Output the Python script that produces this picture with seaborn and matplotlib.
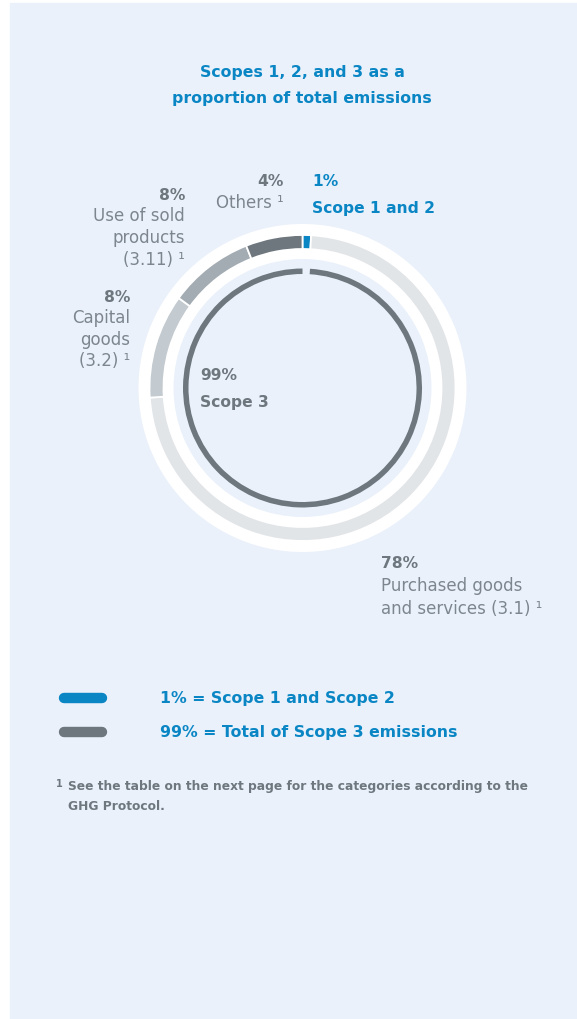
import matplotlib
matplotlib.use("Agg")
import matplotlib.pyplot as plt
from matplotlib.patches import Rectangle
import seaborn as sns

sns.set_theme(style="white")
plt.rcParams['font.family'] = ['DejaVu Sans']

# ---------------- data ----------------
categories = ["Scope 1 and 2", "Purchased goods and services (3.1)", "Capital goods (3.2)",
              "Use of sold products (3.11)", "Others"]
label_pct = [1, 78, 8, 8, 4]              # values printed on the chart
arc_share = [0.9, 73.1, 11, 9, 6]         # arc lengths as drawn in the picture
ring_colors = ["#0A86C4", "#E2E5E8", "#C3CAD0", "#A3ACB3", "#6E777E"]
scope3_share = [1, 99]                     # inner ring: gap (scope 1&2) + scope 3
legend_labels = ["1% = Scope 1 and Scope 2", "99% = Total of Scope 3 emissions"]
legend_colors = ["#0A86C4", "#6E777E"]

BG = "#EAF1FB"
BLUE = "#0A86C4"
GRAY_B = "#6E777E"
GRAY_T = "#7D868F"

W, H = 577, 1020
fig = plt.figure(figsize=(W / 100, H / 100), dpi=100)
fig.patch.set_facecolor("white")
ax = fig.add_axes([0, 0, 1, 1])

def Y(py):
    return H - py

cx, cy = 302.5, Y(389)

ax.add_patch(Rectangle((10, 0), W - 10, H - 4, color=BG, zorder=0))

# white halo ring
ax.pie([1], colors=["white"], radius=164, center=(cx, cy),
       wedgeprops=dict(width=35, linewidth=0), startangle=90)
# main coloured ring
ax.pie(arc_share, colors=ring_colors, radius=153, center=(cx, cy), startangle=90,
       counterclock=False, wedgeprops=dict(width=14, edgecolor="white", linewidth=1.3))
# inner scope-3 ring
ax.pie(scope3_share, colors=[BG, GRAY_B], radius=119.5, center=(cx, cy), startangle=90,
       counterclock=False, wedgeprops=dict(width=5.5, linewidth=0))

ax.set_xlim(0, W)
ax.set_ylim(0, H)
ax.set_aspect("equal")
ax.axis("off")

# title
ax.text(302, Y(72), "Scopes 1, 2, and 3 as a", ha="center", va="center",
        fontsize=11.3, fontweight="bold", color=BLUE)
ax.text(302, Y(99), "proportion of total emissions", ha="center", va="center",
        fontsize=11.3, fontweight="bold", color=BLUE)

lab_fs = 12
def block(x, ys, lines, ha, colors, weights, fs=lab_fs):
    for y, t, c, w in zip(ys, lines, colors, weights):
        ax.text(x, Y(y), t, ha=ha, va="center", fontsize=fs if w == "normal" else 11.2,
                color=c, fontweight=w)

block(284, [182, 203], [f"{label_pct[4]}%", "Others ¹"], "right",
      [GRAY_B, GRAY_T], ["bold", "normal"])
block(312, [182, 208], [f"{label_pct[0]}%", categories[0]], "left",
      [BLUE, BLUE], ["bold", "bold"])
block(185, [195, 216, 238, 260], [f"{label_pct[3]}%", "Use of sold", "products", "(3.11) ¹"],
      "right", [GRAY_B] + [GRAY_T] * 3, ["bold"] + ["normal"] * 3)
block(130, [297, 318, 340, 361], [f"{label_pct[2]}%", "Capital", "goods", "(3.2) ¹"],
      "right", [GRAY_B] + [GRAY_T] * 3, ["bold"] + ["normal"] * 3)
block(200, [376, 403], [f"{scope3_share[1]}%", "Scope 3"], "left",
      [GRAY_B, GRAY_B], ["bold", "bold"])
block(381, [563, 586, 609], [f"{label_pct[1]}%", "Purchased goods", "and services (3.1) ¹"],
      "left", [GRAY_B, GRAY_T, GRAY_T], ["bold", "normal", "normal"])

# legend
for y, lab, col in zip([699, 733], legend_labels, legend_colors):
    ax.plot([64, 102], [Y(y), Y(y)], color=col, linewidth=7.5, solid_capstyle="round")
    ax.text(160, Y(y), lab, ha="left", va="center", fontsize=11.3, fontweight="bold", color=BLUE)

# footnote
ax.text(56, Y(784), "1", ha="left", va="center", fontsize=7, fontweight="bold", color=GRAY_B)
ax.text(68, Y(787), "See the table on the next page for the categories according to the",
        ha="left", va="center", fontsize=8.8, fontweight="bold", color=GRAY_B)
ax.text(68, Y(807), "GHG Protocol.", ha="left", va="center", fontsize=8.8,
        fontweight="bold", color=GRAY_B)

fig.savefig("out.png", dpi=100, facecolor=fig.get_facecolor())
